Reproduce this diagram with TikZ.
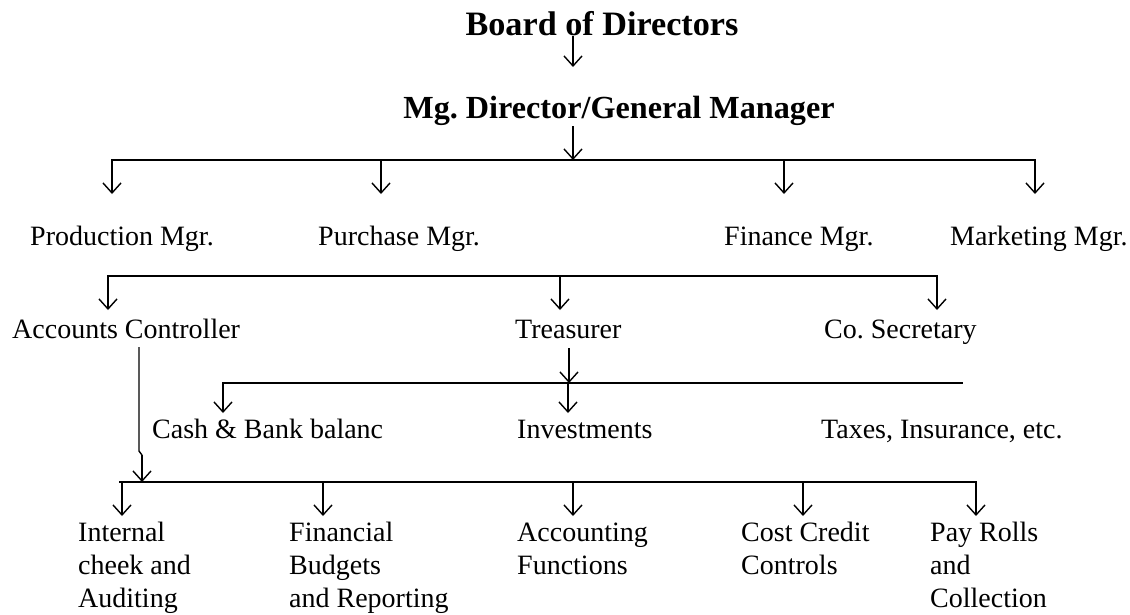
\documentclass[tikz,border=0pt]{standalone}
\usepackage{fontspec}
\setmainfont{Liberation Serif}
\usetikzlibrary{arrows.meta}
\begin{document}
\frenchspacing
\begin{tikzpicture}[x=1pt,y=-1pt,
  lbl/.style={anchor=base west, inner sep=0pt, font=\fontsize{28}{33}\selectfont\frenchspacing},
  ttl/.style={anchor=base, inner sep=0pt, font=\fontsize{33}{38}\selectfont\bfseries\frenchspacing},
  bus/.style={line width=1.8pt, line cap=rect},
  arr/.style={line width=1.4pt, -{Straight Barb[length=10pt,width=18pt,line width=1.4pt]}},
  plain/.style={line width=1.4pt},
]
\useasboundingbox (0,0) rectangle (1130,614);

% titles
\node[ttl, font=\fontsize{34.2}{38}\selectfont\bfseries] (bod) at (602,35) {Board of Directors};
\node[ttl, font=\fontsize{32.2}{38}\selectfont\bfseries\frenchspacing] (md)  at (619,118) {Mg. Director/General Manager};

% row 1
\node[lbl] (prod) at (30,245)  {Production Mgr.};
\node[lbl] (purc) at (318,245) {Purchase Mgr.};
\node[lbl] (fin)  at (724,245) {Finance Mgr.};
\node[lbl] (mkt)  at (950,245) {Marketing Mgr.};

% row 2
\node[lbl] (acc)  at (12,338)  {Accounts Controller};
\node[lbl] (tre)  at (515,338) {Treasurer};
\node[lbl] (sec)  at (824,338) {Co. Secretary};

% row 3
\node[lbl] (cash) at (152,438) {Cash \& Bank balanc};
\node[lbl] (inv)  at (517,438) {Investments};
\node[lbl] (tax)  at (821,438) {Taxes, Insurance, etc.};

% row 4
\node[lbl] (intc) at (78,541)  {\begin{tabular}[t]{@{}l@{}}Internal\\cheek and\\Auditing\end{tabular}};
\node[lbl] (fbud) at (289,541) {\begin{tabular}[t]{@{}l@{}}Financial\\Budgets\\and Reporting\end{tabular}};
\node[lbl] (afun) at (517,541) {\begin{tabular}[t]{@{}l@{}}Accounting\\Functions\end{tabular}};
\node[lbl] (ccc)  at (741,541) {\begin{tabular}[t]{@{}l@{}}Cost Credit\\Controls\end{tabular}};
\node[lbl] (pay)  at (930,541) {\begin{tabular}[t]{@{}l@{}}Pay Rolls\\and\\Collection\end{tabular}};

% coordinates
\coordinate (a0) at (573,36);
\coordinate (a0t) at (573,67);
\coordinate (a1) at (573,126);
\coordinate (b1l) at (112,160);
\coordinate (b1r) at (1035,160);
\coordinate (t1a) at (112,194);
\coordinate (t1b) at (381,194);
\coordinate (t1c) at (784,194);
\coordinate (t1d) at (1035,194);

\coordinate (b2l) at (108,276);
\coordinate (b2r) at (937,276);
\coordinate (t2a) at (108,310);
\coordinate (t2b) at (560,310);
\coordinate (t2c) at (937,310);

\coordinate (tr0) at (569,348);
\coordinate (b3l) at (223,383);
\coordinate (b3r) at (962,383);
\coordinate (t3a) at (223,413);
\coordinate (t3b) at (568,413);

\coordinate (ac0) at (139,347);
\coordinate (ac1) at (139,451);
\coordinate (ac2) at (142,455);
\coordinate (b4l) at (120,482);
\coordinate (b4r) at (976,482);
\coordinate (t4a) at (122,516);
\coordinate (t4b) at (323,516);
\coordinate (t4c) at (573,516);
\coordinate (t4d) at (803,516);
\coordinate (t4e) at (976,516);

% connectors
\draw[arr] (a0) -- (a0t);
\draw[arr] (a1) -- (a1 |- b1l);

\draw[bus] (b1l) -- (b1r);
\draw[arr] (t1a |- b1l) -- (t1a);
\draw[arr] (t1b |- b1l) -- (t1b);
\draw[arr] (t1c |- b1l) -- (t1c);
\draw[arr] (t1d |- b1l) -- (t1d);

\draw[bus] (b2l) -- (b2r);
\draw[arr] (t2a |- b2l) -- (t2a);
\draw[arr] (t2b |- b2l) -- (t2b);
\draw[arr] (t2c |- b2l) -- (t2c);

\draw[bus] (b3l) -- (b3r);
\draw[arr] (tr0) -- (tr0 |- b3l);
\draw[arr] (t3a |- b3l) -- (t3a);
\draw[arr] (t3b |- b3l) -- (t3b);

\draw[plain] (ac0) -- (ac1) -- (ac2);
\draw[arr] (ac2) -- (ac2 |- b4l);

\draw[bus] (b4l) -- (b4r);
\draw[arr] (t4a |- b4l) -- (t4a);
\draw[arr] (t4b |- b4l) -- (t4b);
\draw[arr] (t4c |- b4l) -- (t4c);
\draw[arr] (t4d |- b4l) -- (t4d);
\draw[arr] (t4e |- b4l) -- (t4e);
\end{tikzpicture}
\end{document}
